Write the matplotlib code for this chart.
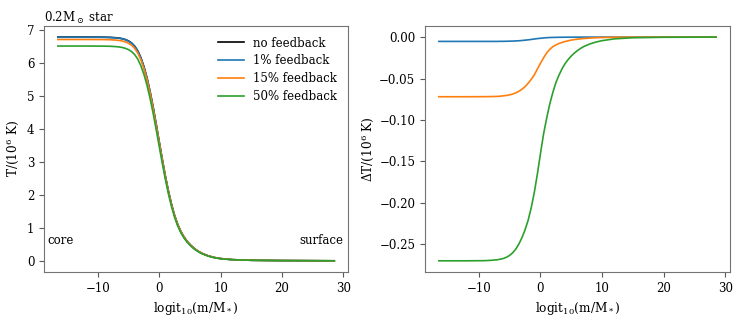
import matplotlib
matplotlib.use("Agg")
import matplotlib.pyplot as plt
import numpy as np

# mass coordinate logit10(m/M*)
x = [-16.5, -12, -9, -8, -7, -6.5, -6, -5.5, -5, -4.5, -4, -3.5, -3, -2.5, -2,
     -1.5, -1, -0.5, 0, 0.5, 1, 1.5, 2, 2.5, 3, 3.5, 4, 4.5, 5, 5.5, 6, 6.5,
     7, 8, 9, 10, 12, 15, 20, 28.5]

# no-feedback temperature (1e6 K)
T_nofb = [6.781, 6.781, 6.778, 6.773, 6.761, 6.750, 6.733, 6.706, 6.665, 6.603,
          6.508, 6.365, 6.160, 5.890, 5.550, 5.140, 4.668, 4.150, 3.610, 3.075,
          2.570, 2.113, 1.715, 1.380, 1.113, 0.903, 0.738, 0.608, 0.503, 0.415,
          0.341, 0.280, 0.230, 0.156, 0.107, 0.075, 0.042, 0.025, 0.015, 0.008]

# temperature differences relative to no feedback (1e6 K)
dT_1 = [-0.0052, -0.0052, -0.0052, -0.0052, -0.0052, -0.0051, -0.0051, -0.0050,
        -0.0049, -0.0048, -0.0046, -0.0044, -0.0041, -0.0037, -0.0033, -0.0028,
        -0.0023, -0.0018, -0.0014, -0.0010, -0.0007, -0.0005, -0.0004, -0.0003,
        -0.0002, -0.0002, -0.0001, -0.0001, -0.0001, 0.0, 0.0, 0.0,
        0.0, 0.0, 0.0, 0.0, 0.0, 0.0, 0.0, 0.0]
dT_15 = [-0.0720, -0.0720, -0.0719, -0.0718, -0.0716, -0.0713, -0.0709, -0.0704,
         -0.0697, -0.0687, -0.0673, -0.0654, -0.0629, -0.0597, -0.0557, -0.0510,
         -0.0455, -0.0385, -0.0315, -0.0250, -0.0192, -0.0148, -0.0116, -0.0094,
         -0.0077, -0.0064, -0.0053, -0.0044, -0.0036, -0.0030, -0.0025, -0.0021,
         -0.0017, -0.0012, -0.0008, -0.0005, -0.0002, -0.0001, 0.0, 0.0]
dT_50 = [-0.2701, -0.2701, -0.2699, -0.2695, -0.2688, -0.2681, -0.2672, -0.2657,
         -0.2635, -0.2603, -0.2558, -0.2497, -0.2420, -0.2325, -0.2210, -0.2058,
         -0.1875, -0.1650, -0.1405, -0.1170, -0.0980, -0.0810, -0.0670, -0.0550,
         -0.0460, -0.0382, -0.0320, -0.0270, -0.0228, -0.0193, -0.0163, -0.0137,
         -0.0115, -0.0083, -0.0060, -0.0043, -0.0021, -0.0008, -0.0002, 0.0]

labels = ["no feedback", "1% feedback", "15% feedback", "50% feedback"]
colors = ["black", "#1f77b4", "#ff7f0e", "#2ca02c"]

T_nofb_a = np.array(T_nofb)
series_T = [T_nofb_a, T_nofb_a + np.array(dT_1), T_nofb_a + np.array(dT_15),
            T_nofb_a + np.array(dT_50)]
series_dT = [dT_1, dT_15, dT_50]

plt.rcParams['font.family'] = ['DejaVu Serif']
plt.rcParams['mathtext.fontset'] = 'dejavuserif'
plt.rcParams['font.size'] = 8.7

fig = plt.figure(figsize=(7.47, 3.2), dpi=100)
ax1 = fig.add_axes([0.059, 0.15, 0.407, 0.769])
ax2 = fig.add_axes([0.569, 0.15, 0.408, 0.769])

for T, lab, c in zip(series_T, labels, colors):
    ax1.plot(x, T, color=c, label=lab, lw=1.2)
for dT, c in zip(series_dT, colors[1:]):
    ax2.plot(x, dT, color=c, lw=1.2)

ax1.set_yticks([0, 1, 2, 3, 4, 5, 6, 7])
ax1.set_xticks([-10, 0, 10, 20, 30])
ax2.set_xticks([-10, 0, 10, 20, 30])
ax2.set_yticks([0.0, -0.05, -0.10, -0.15, -0.20, -0.25])
ax2.yaxis.set_major_formatter(matplotlib.ticker.FuncFormatter(
    lambda v, p: ("%.2f" % v).replace("-", "\u2212")))

ax1.set_xlabel(r"logit$_{10}$(m/M$_*$)")
ax2.set_xlabel(r"logit$_{10}$(m/M$_*$)")
ax1.set_ylabel(r"T/(10$^6$ K)")
ax2.set_ylabel(r"$\Delta$T/(10$^6$ K)", labelpad=2)
ax1.set_title(r"0.2M$_\odot$ star", loc="left", fontsize=8.5, pad=3)

ax1.text(0.012, 0.13, "core", transform=ax1.transAxes, ha="left", va="center",
         fontsize=8.5)
ax1.text(0.985, 0.13, "surface", transform=ax1.transAxes, ha="right", va="center",
         fontsize=8.5)

ax1.legend(frameon=False, loc="upper right", bbox_to_anchor=(1.0, 1.0),
           handlelength=2.2, labelspacing=0.4, fontsize=8.5)

for ax in (ax1, ax2):
    for s in ax.spines.values():
        s.set_color("0.45")
    ax.tick_params(color="0.35", labelcolor="black", labelsize=8.5)

fig.savefig("out.png", dpi=100)
